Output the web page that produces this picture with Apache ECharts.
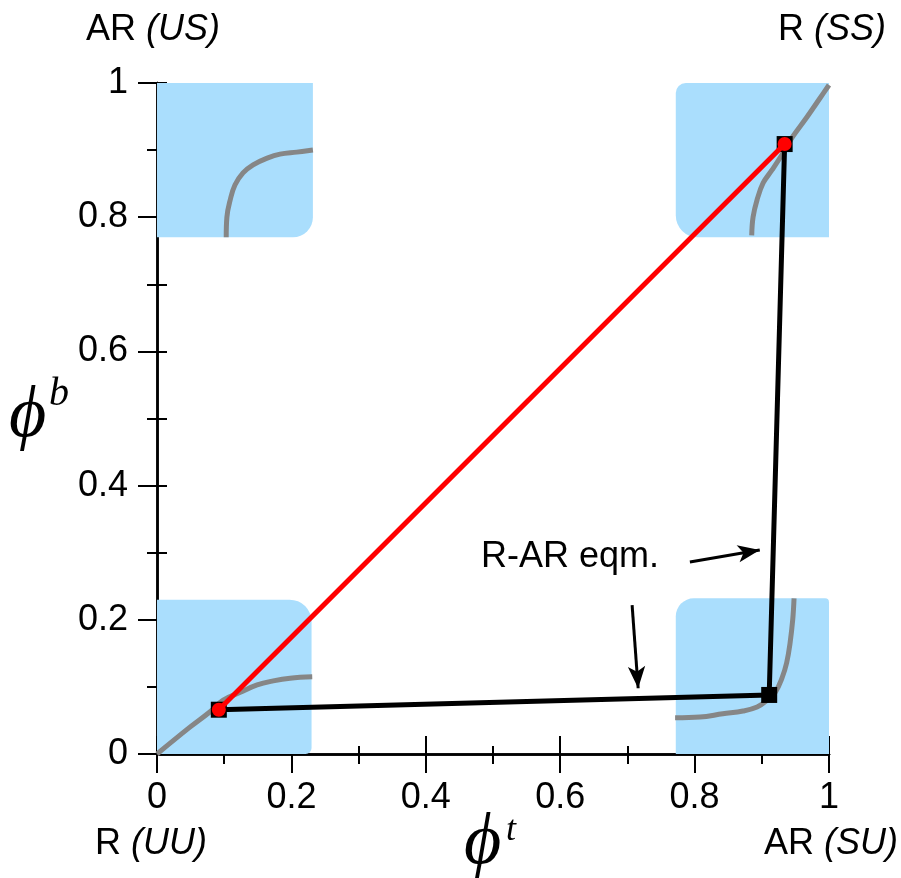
<!DOCTYPE html>
<html>
<head>
<meta charset="utf-8">
<script src="https://cdn.jsdelivr.net/npm/echarts@6/dist/echarts.min.js"></script>
<style>
  html, body { margin: 0; padding: 0; background: #fff; }
  #chart { width: 901px; height: 878px; }
</style>
</head>
<body>
<div id="chart"></div>
<script>
// 刻度标签
var tickLabels = ['0', '0.2', '0.4', '0.6', '0.8', '1'];

// 蓝色区域 [x0, y0, x1, y1]
var boxes = [
    [0, 0.77, 0.232, 1],
    [0.772, 0.77, 1, 1],
    [0, 0, 0.23, 0.23],
    [0.772, 0, 1, 0.232]
];

// 灰色曲线
var curveUU = [[0, 0], [0.049, 0.040], [0.079, 0.063], [0.098, 0.080], [0.124, 0.092], [0.149, 0.103],
    [0.173, 0.109], [0.198, 0.113], [0.231, 0.115]];
var curveUS = [[0.103, 0.770], [0.104, 0.800], [0.109, 0.826], [0.116, 0.848], [0.128, 0.866], [0.143, 0.878],
    [0.164, 0.888], [0.183, 0.894], [0.208, 0.897], [0.232, 0.900]];
var curveSS = [[0.885, 0.773], [0.887, 0.800], [0.893, 0.826], [0.902, 0.851], [0.915, 0.870], [0.930, 0.893],
    [0.946, 0.920], [0.967, 0.949], [0.987, 0.978], [1.0, 0.997]];
var curveSU = [[0.771, 0.054], [0.808, 0.055], [0.842, 0.060], [0.872, 0.064], [0.893, 0.070], [0.908, 0.080],
    [0.920, 0.092], [0.930, 0.113], [0.937, 0.136], [0.942, 0.165], [0.946, 0.200], [0.948, 0.232]];

// 黑线 (R-AR eqm.) 和 红线
var blackPath = [[0.092, 0.066], [0.911, 0.088], [0.934, 0.909]];
var redPath = [[0.092, 0.066], [0.934, 0.909]];

// 箭头
var arrows = [
    [[0.793, 0.286], [0.897, 0.304]],
    [[0.707, 0.222], [0.716, 0.098]]
];

var chart = echarts.init(document.getElementById('chart'));

var labelFont = 'Liberation Sans, Arial, sans-serif';
var richItalic = { i: { fontStyle: 'italic', fontSize: 36, fontFamily: labelFont } };

function greyLine(d) {
    return {
        type: 'line',
        data: d,
        smooth: 0.4,
        symbol: 'none',
        lineStyle: { color: '#868686', width: 5 },
        z: 3,
        silent: true
    };
}

var option = {
    animation: false,
    grid: { left: 157, top: 83, width: 672, height: 671, containLabel: false },
    xAxis: [{
        type: 'value', min: 0, max: 1, interval: 0.2, position: 'bottom',
        axisLine: { lineStyle: { color: '#000', width: 2.5 } },
        axisTick: { length: 19, lineStyle: { color: '#000', width: 2 } },
        minorTick: { show: true, splitNumber: 2, length: 10, lineStyle: { color: '#000', width: 2 } },
        splitLine: { show: false },
        axisLabel: {
            color: '#000', fontSize: 36, fontFamily: labelFont, margin: 26,
            formatter: function(v) { return tickLabels[Math.round(v / 0.2)]; }
        }
    }, {
        type: 'value', min: 0, max: 1, interval: 0.2, position: 'top',
        axisLine: { lineStyle: { color: '#000', width: 2.5 } },
        axisTick: { length: 18, lineStyle: { color: '#000', width: 2 } },
        minorTick: { show: true, splitNumber: 2, length: 8, lineStyle: { color: '#000', width: 2 } },
        splitLine: { show: false },
        axisLabel: { show: false }
    }],
    yAxis: [{
        type: 'value', min: 0, max: 1, interval: 0.2, position: 'left',
        axisLine: { lineStyle: { color: '#000', width: 2.5 } },
        axisTick: { length: 19, lineStyle: { color: '#000', width: 2 } },
        minorTick: { show: true, splitNumber: 2, length: 10, lineStyle: { color: '#000', width: 2 } },
        splitLine: { show: false },
        axisLabel: {
            color: '#000', fontSize: 36, fontFamily: labelFont, margin: 29,
            formatter: function(v) { return tickLabels[Math.round(v / 0.2)]; }
        }
    }, {
        type: 'value', min: 0, max: 1, interval: 0.1, position: 'right',
        axisLine: { lineStyle: { color: '#000', width: 2.5 } },
        axisTick: { length: 10, lineStyle: { color: '#000', width: 2 } },
        splitLine: { show: false },
        axisLabel: { show: false }
    }],
    series: [{
        type: 'custom',
        data: boxes,
        z: 1,
        silent: true,
        renderItem: function(params, api) {
            var p0 = api.coord([api.value(0), api.value(3)]);
            var p1 = api.coord([api.value(2), api.value(1)]);
            var i = params.dataIndex;
            var radii = [[0, 0, 20, 0], [10, 0, 0, 22], [0, 22, 6, 0], [18, 4, 0, 0]];
            return {
                type: 'rect',
                shape: { x: p0[0], y: p0[1], width: p1[0] - p0[0], height: p1[1] - p0[1], r: radii[i] },
                style: { fill: '#aadefd' }
            };
        },
        encode: { x: [0, 2], y: [1, 3] }
    },
        greyLine(curveUU), greyLine(curveUS), greyLine(curveSS), greyLine(curveSU),
    {
        type: 'line',
        data: blackPath,
        symbol: 'rect',
        symbolSize: 16,
        itemStyle: { color: '#000' },
        lineStyle: { color: '#000', width: 5 },
        z: 4,
        silent: true
    }, {
        type: 'line',
        data: redPath,
        symbol: 'circle',
        symbolSize: 14,
        itemStyle: { color: '#ff0000' },
        lineStyle: { color: '#ff0000', width: 5 },
        z: 5,
        silent: true,
        markLine: {
            silent: true,
            symbol: ['none', 'arrow'],
            symbolSize: [13, 22],
            label: { show: false },
            lineStyle: { color: '#000', width: 3, type: 'solid' },
            data: arrows.map(function(a) {
                return [{ coord: a[0] }, { coord: a[1] }];
            })
        }
    }],
    graphic: [
        { type: 'text', left: 86, top: 12, style: { text: 'AR {i|(US)}', font: '36px ' + labelFont, fill: '#000', rich: richItalic } },
        { type: 'text', right: 15, top: 12, style: { text: 'R {i|(SS)}', font: '36px ' + labelFont, fill: '#000', rich: richItalic } },
        { type: 'text', left: 95, top: 826, style: { text: 'R {i|(UU)}', font: '36px ' + labelFont, fill: '#000', rich: richItalic } },
        { type: 'text', right: 3, top: 826, style: { text: 'AR {i|(SU)}', font: '36px ' + labelFont, fill: '#000', rich: richItalic } },
        { type: 'text', left: 481, top: 539, style: { text: 'R-AR eqm.', font: '36px ' + labelFont, fill: '#000' } },
        // 坐标轴标题 φ^t, φ^b
        { type: 'text', left: 464, top: 808, style: { text: 'ϕ', font: 'italic 72px "Liberation Serif", serif', fill: '#000' } },
        { type: 'text', left: 506, top: 813, style: { text: 't', font: 'italic 36px "Liberation Serif", serif', fill: '#000' } },
        { type: 'text', left: 9, top: 381, style: { text: 'ϕ', font: 'italic 72px "Liberation Serif", serif', fill: '#000' } },
        { type: 'text', left: 49, top: 374, style: { text: 'b', font: 'italic 40px "Liberation Serif", serif', fill: '#000' } }
    ]
};

chart.setOption(option);
</script>
</body>
</html>
